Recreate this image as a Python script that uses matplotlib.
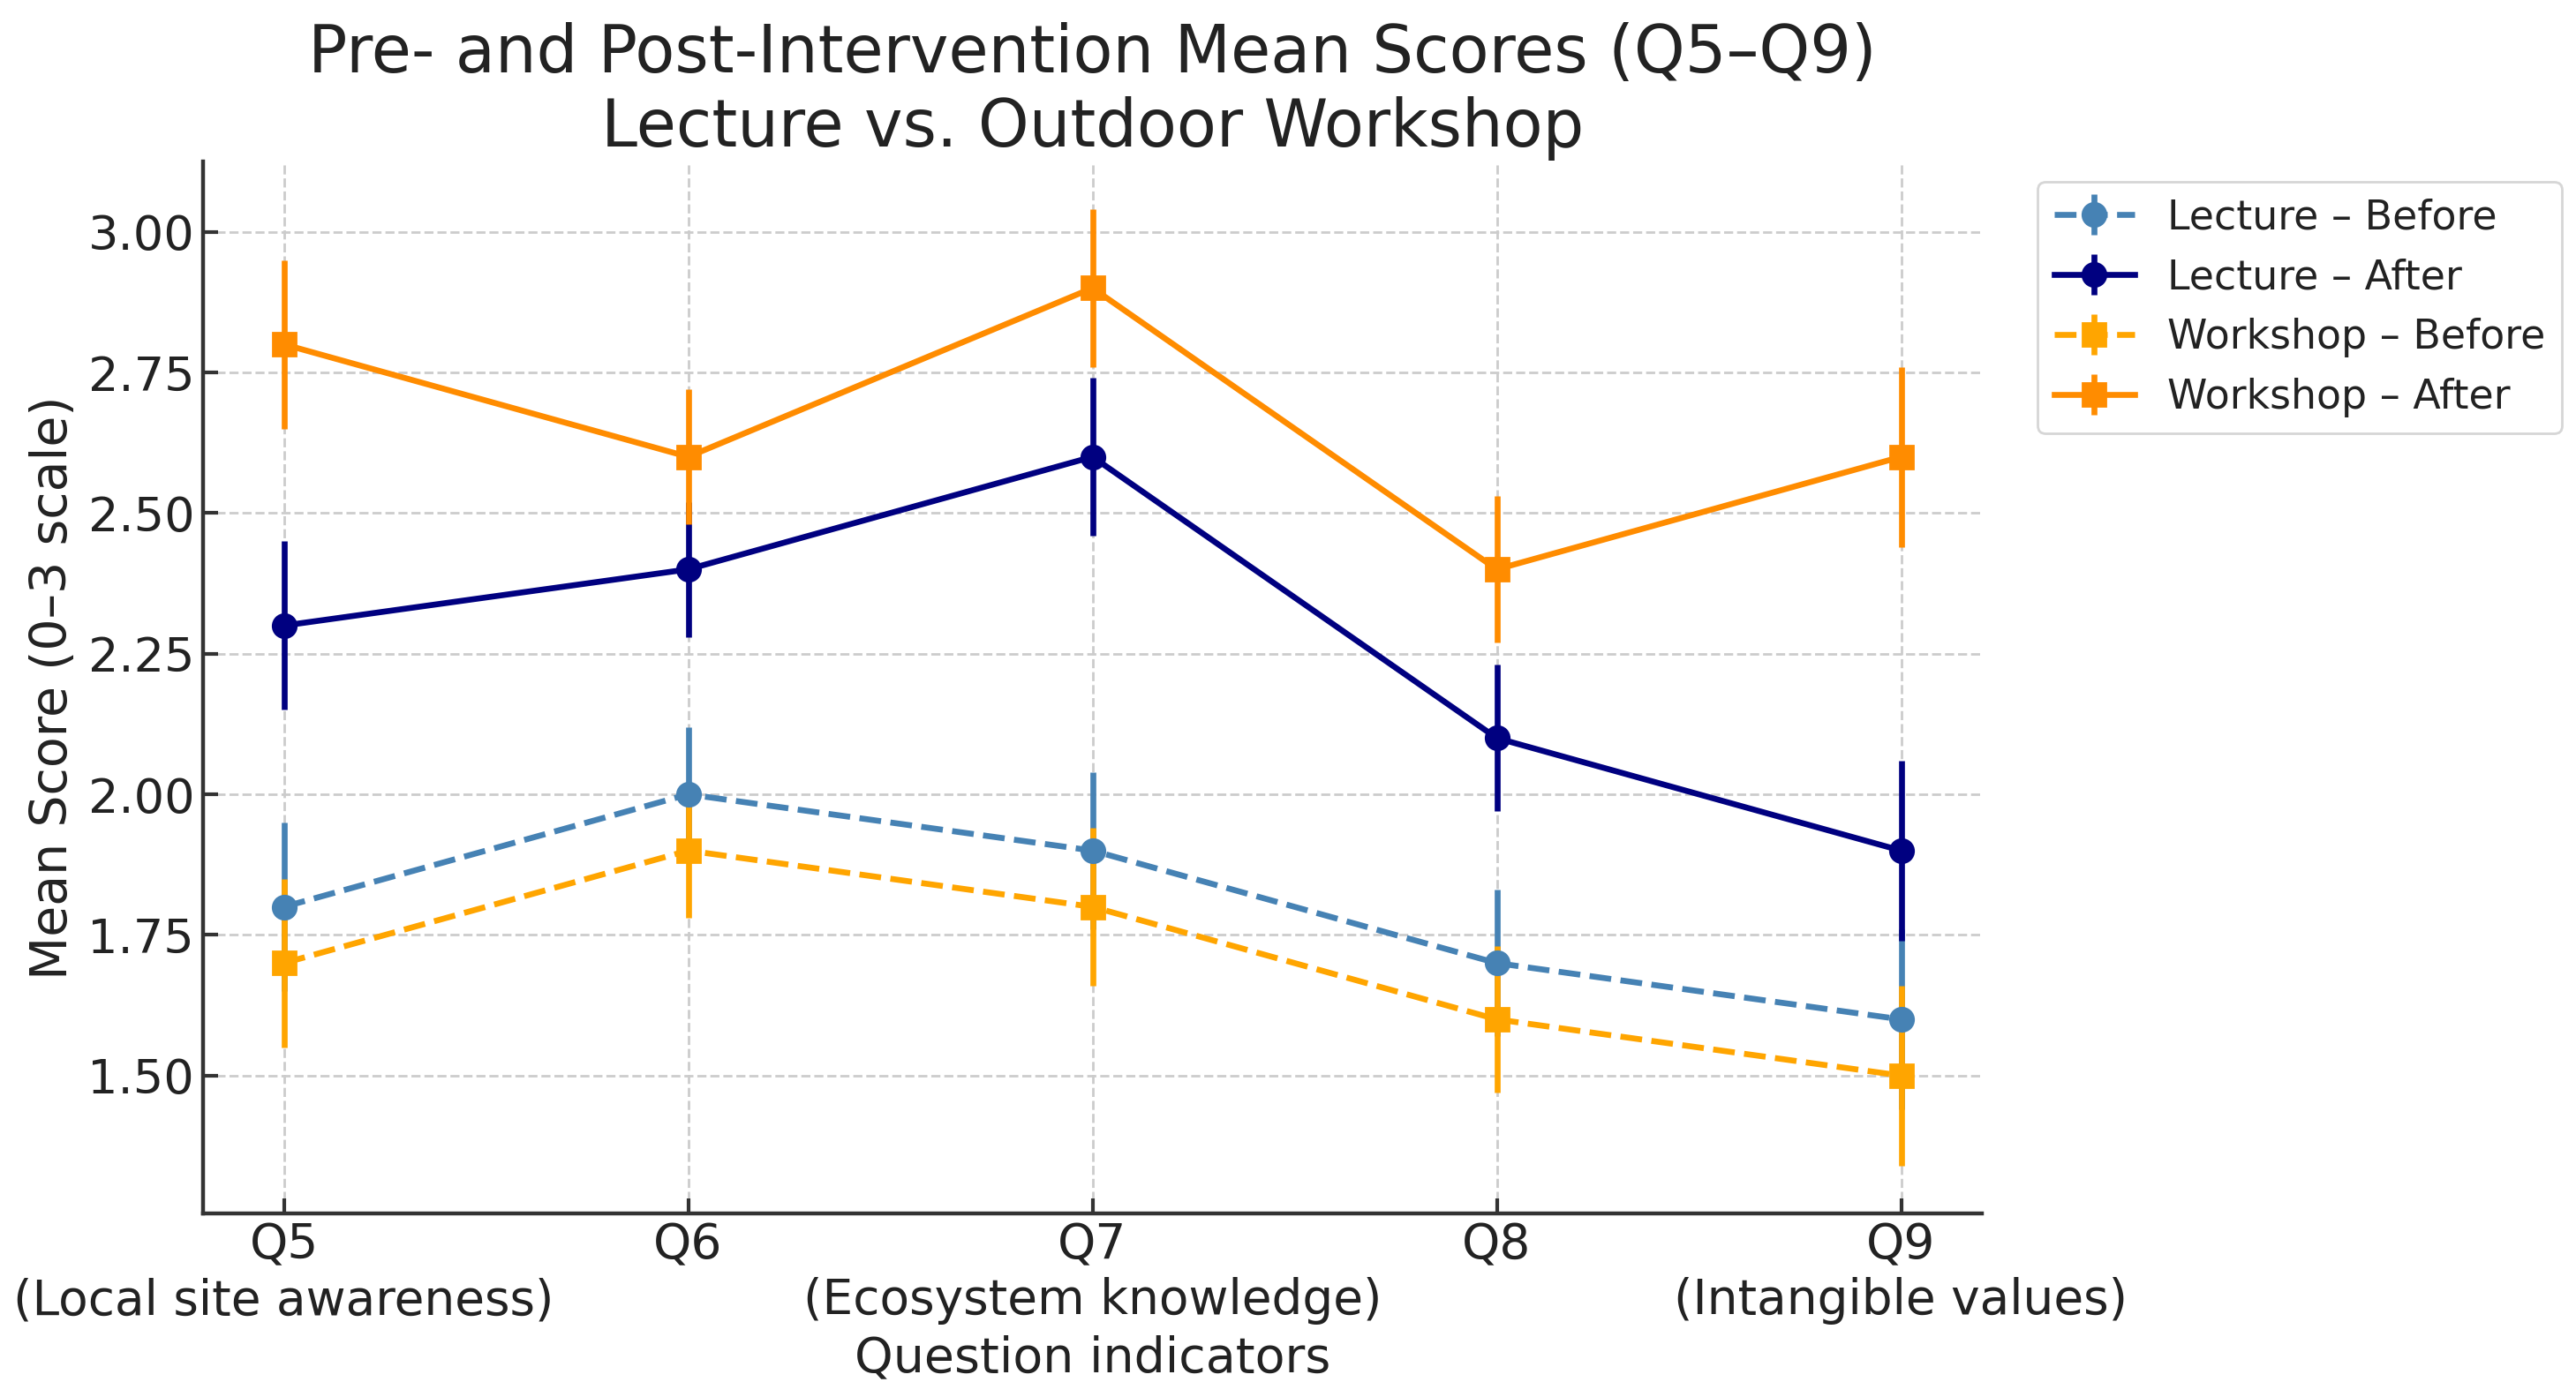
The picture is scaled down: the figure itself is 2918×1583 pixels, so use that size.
import matplotlib.pyplot as plt
import numpy as np

questions = ["Q5\n(Local site awareness)", "Q6", "Q7\n(Ecosystem knowledge)", "Q8",
             "Q9\n(Intangible values)"]

lecture_before = [1.8, 2.0, 1.9, 1.7, 1.6]
lecture_after = [2.3, 2.4, 2.6, 2.1, 1.9]
workshop_before = [1.7, 1.9, 1.8, 1.6, 1.5]
workshop_after = [2.8, 2.6, 2.9, 2.4, 2.6]

# same error for every series at a given question
errors = [0.15, 0.12, 0.14, 0.13, 0.16]

plt.rcParams['font.family'] = ['DejaVu Sans']
TEXT = "#222222"

fig, ax = plt.subplots(figsize=(14.59, 7.915), dpi=200)
fig.subplots_adjust(left=0.0788, right=0.7694, top=0.8844, bottom=0.1314)

x = np.arange(len(questions))

series = [
    ("Lecture – Before", lecture_before, "#4682B4", "o", "--"),
    ("Lecture – After", lecture_after, "#000080", "o", "-"),
    ("Workshop – Before", workshop_before, "#FFA500", "s", "--"),
    ("Workshop – After", workshop_after, "#FF8C00", "s", "-"),
]
for label, vals, col, mk, ls in series:
    ax.errorbar(x, vals, yerr=errors, label=label, color=col, marker=mk,
                linestyle=ls, linewidth=2.4, elinewidth=2.4, markersize=9.5,
                capsize=0)

ax.set_xticks(x)
ax.set_xticklabels(questions)
ax.set_yticks([1.5, 1.75, 2.0, 2.25, 2.5, 2.75, 3.0])
ax.set_yticklabels(["1.50", "1.75", "2.00", "2.25", "2.50", "2.75", "3.00"])
ax.tick_params(axis="both", direction="in", length=6, width=1.5,
               colors="#333333", labelcolor=TEXT)
ax.tick_params(axis="x", labelsize=19.8)
ax.tick_params(axis="y", labelsize=19.5)

ax.grid(True, linestyle="--", color="#cccccc", linewidth=1.0)
ax.set_axisbelow(True)
for side in ["top", "right"]:
    ax.spines[side].set_visible(False)
for side in ["left", "bottom"]:
    ax.spines[side].set_linewidth(1.6)
    ax.spines[side].set_color("#333333")

ax.set_xlabel("Question indicators", fontsize=20, color=TEXT, labelpad=4)
ax.set_ylabel("Mean Score (0–3 scale)", fontsize=20.5, color=TEXT)
ax.set_title("Pre- and Post-Intervention Mean Scores (Q5–Q9)\nLecture vs. Outdoor Workshop",
             fontsize=26.5, color=TEXT)

ax.legend(loc="upper left", bbox_to_anchor=(1.02, 1.0), fontsize=16.5,
          labelcolor=TEXT)

fig.savefig("out.png", dpi=200)
